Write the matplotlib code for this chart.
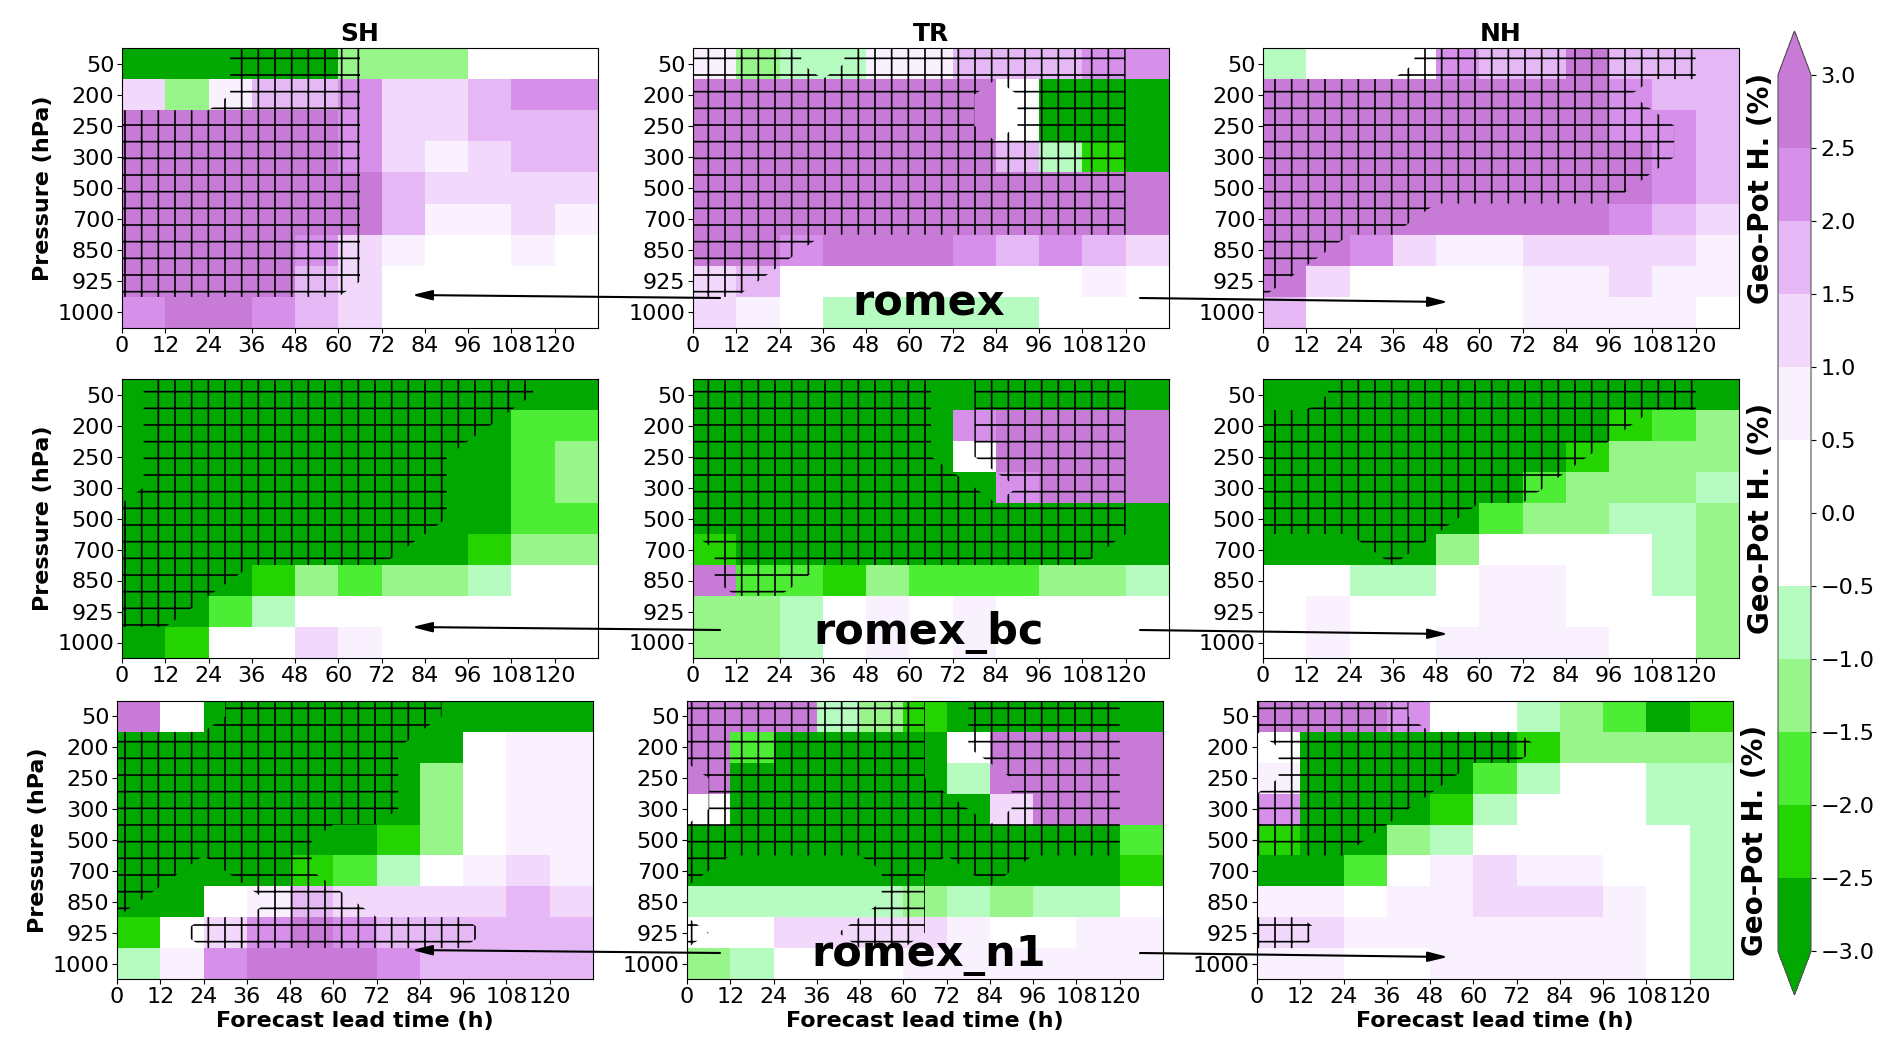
import numpy as np
import matplotlib
matplotlib.use('Agg')
import matplotlib.pyplot as plt
from matplotlib import font_manager
from matplotlib.colors import ListedColormap, BoundaryNorm
from matplotlib.patches import FancyArrowPatch, ArrowStyle

plt.rcParams['hatch.color'] = 'black'
plt.rcParams['hatch.linewidth'] = 1.2

lead_time = [0, 12, 24, 36, 48, 60, 72, 84, 96, 108, 120]
pressure = ['50', '200', '250', '300', '500', '700', '850', '925', '1000']
regions = ['SH', 'TR', 'NH']
experiments = ['romex', 'romex_bc', 'romex_n1']

# geopotential height change (%), rows = pressure levels top->bottom, cols = lead time
sh_romex = [
    [-2.8, -2.8, -2.8, -2.8, -2.8, -1.2, -1.2, -1.2, 0.2, 0.2, 0.2],
    [1.2, -1.2, 0.7, 1.7, 1.7, 2.2, 1.2, 1.2, 1.7, 2.2, 2.2],
    [2.8, 2.8, 2.8, 2.8, 2.8, 2.2, 1.2, 1.2, 1.7, 1.7, 1.7],
    [2.8, 2.8, 2.8, 2.8, 2.8, 2.2, 1.2, 0.7, 1.2, 1.7, 1.7],
    [2.8, 2.8, 2.8, 2.8, 2.8, 2.8, 1.7, 1.2, 1.2, 1.2, 1.2],
    [2.8, 2.8, 2.8, 2.8, 2.8, 2.8, 1.7, 0.7, 0.7, 1.2, 0.7],
    [2.8, 2.8, 2.8, 2.8, 2.2, 1.2, 0.7, 0.2, 0.2, 0.7, 0.2],
    [2.8, 2.8, 2.8, 2.8, 1.7, 1.2, 0.2, 0.2, 0.2, 0.2, 0.2],
    [2.2, 2.8, 2.8, 2.2, 1.7, 1.2, 0.2, 0.2, 0.2, 0.2, 0.2],
]
tr_romex = [
    [0.7, -1.2, -0.7, -0.7, 0.7, 0.7, 1.7, 1.7, 1.7, 2.2, 2.2],
    [2.8, 2.8, 2.8, 2.8, 2.8, 2.8, 2.8, 0.2, -2.8, -2.8, -2.8],
    [2.8, 2.8, 2.8, 2.8, 2.8, 2.8, 2.8, 0.2, -2.8, -2.8, -2.8],
    [2.8, 2.8, 2.8, 2.8, 2.8, 2.8, 2.8, 1.7, -0.7, -2.2, -2.8],
    [2.8, 2.8, 2.8, 2.8, 2.8, 2.8, 2.8, 2.8, 2.8, 2.8, 2.8],
    [2.8, 2.8, 2.8, 2.8, 2.8, 2.8, 2.8, 2.8, 2.8, 2.8, 2.8],
    [2.8, 2.8, 2.2, 2.8, 2.8, 2.8, 2.2, 1.7, 2.2, 1.7, 1.2],
    [1.2, 1.7, 0.2, 0.2, 0.2, 0.2, 0.2, 0.2, 0.2, 0.7, 0.2],
    [1.2, 0.7, 0.2, -0.7, -0.7, -0.7, -0.7, -0.7, 0.2, 0.2, 0.2],
]
nh_romex = [
    [-0.7, 0.2, 0.2, 0.2, 2.2, 1.7, 1.7, 2.8, 1.7, 1.7, 1.7],
    [2.8, 2.8, 2.8, 2.8, 2.8, 2.8, 2.8, 2.8, 2.2, 1.7, 1.7],
    [2.8, 2.8, 2.8, 2.8, 2.8, 2.8, 2.8, 2.8, 2.2, 2.2, 1.7],
    [2.8, 2.8, 2.8, 2.8, 2.8, 2.8, 2.8, 2.8, 2.8, 2.2, 1.7],
    [2.8, 2.8, 2.8, 2.8, 2.8, 2.8, 2.8, 2.8, 2.8, 2.2, 1.7],
    [2.8, 2.8, 2.8, 2.8, 2.8, 2.8, 2.8, 2.8, 2.2, 1.7, 1.2],
    [2.8, 2.8, 2.2, 1.2, 0.7, 0.7, 1.2, 1.2, 1.2, 1.2, 0.7],
    [2.8, 1.2, 0.2, 0.2, 0.2, 0.2, 0.7, 0.7, 1.2, 0.7, 0.7],
    [1.7, 0.2, 0.2, 0.2, 0.2, 0.2, 0.7, 0.7, 0.7, 0.7, 0.2],
]
sh_romex_bc = [
    [-2.8, -2.8, -2.8, -2.8, -2.8, -2.8, -2.8, -2.8, -2.8, -2.8, -2.8],
    [-2.8, -2.8, -2.8, -2.8, -2.8, -2.8, -2.8, -2.8, -2.8, -1.7, -1.7],
    [-2.8, -2.8, -2.8, -2.8, -2.8, -2.8, -2.8, -2.8, -2.8, -1.7, -1.2],
    [-2.8, -2.8, -2.8, -2.8, -2.8, -2.8, -2.8, -2.8, -2.8, -1.7, -1.2],
    [-2.8, -2.8, -2.8, -2.8, -2.8, -2.8, -2.8, -2.8, -2.8, -1.7, -1.7],
    [-2.8, -2.8, -2.8, -2.8, -2.8, -2.8, -2.8, -2.8, -2.2, -1.2, -1.2],
    [-2.8, -2.8, -2.8, -2.2, -1.2, -1.7, -1.2, -1.2, -0.7, 0.2, 0.2],
    [-2.8, -2.8, -1.7, -0.7, 0.2, 0.2, 0.2, 0.2, 0.2, 0.2, 0.2],
    [-2.8, -2.2, 0.2, 0.2, 1.2, 0.7, 0.2, 0.2, 0.2, 0.2, 0.2],
]
tr_romex_bc = [
    [-2.8, -2.8, -2.8, -2.8, -2.8, -2.8, -2.8, -2.8, -2.8, -2.8, -2.8],
    [-2.8, -2.8, -2.8, -2.8, -2.8, -2.8, 2.2, 2.8, 2.8, 2.8, 2.8],
    [-2.8, -2.8, -2.8, -2.8, -2.8, -2.8, 0.2, 2.8, 2.8, 2.8, 2.8],
    [-2.8, -2.8, -2.8, -2.8, -2.8, -2.8, -2.8, 2.2, 2.8, 2.8, 2.8],
    [-2.8, -2.8, -2.8, -2.8, -2.8, -2.8, -2.8, -2.8, -2.8, -2.8, -2.8],
    [-2.2, -2.8, -2.8, -2.8, -2.8, -2.8, -2.8, -2.8, -2.8, -2.8, -2.8],
    [2.8, -1.7, -1.7, -2.2, -1.2, -1.7, -1.7, -1.7, -1.2, -1.2, -0.7],
    [-1.2, -1.2, -0.7, 0.2, 0.7, 0.2, 0.7, 0.2, 0.2, 0.2, 0.2],
    [-1.2, -1.2, -0.7, 0.2, 0.7, 0.2, 0.7, 0.2, 0.2, 0.2, 0.2],
]
nh_romex_bc = [
    [-2.8, -2.8, -2.8, -2.8, -2.8, -2.8, -2.8, -2.8, -2.8, -2.8, -2.8],
    [-2.8, -2.8, -2.8, -2.8, -2.8, -2.8, -2.8, -2.8, -2.2, -1.7, -1.2],
    [-2.8, -2.8, -2.8, -2.8, -2.8, -2.8, -2.8, -2.2, -1.2, -1.2, -1.2],
    [-2.8, -2.8, -2.8, -2.8, -2.8, -2.8, -1.7, -1.2, -1.2, -1.2, -0.7],
    [-2.8, -2.8, -2.8, -2.8, -2.8, -1.7, -1.2, -1.2, -0.7, -0.7, -1.2],
    [-2.8, -2.8, -2.8, -2.8, -1.2, 0.2, 0.2, 0.2, 0.2, -0.7, -1.2],
    [0.2, 0.2, -0.7, -0.7, 0.2, 0.7, 0.7, 0.2, 0.2, -0.7, -1.2],
    [0.2, 0.7, 0.2, 0.2, 0.2, 0.7, 0.7, 0.2, 0.2, 0.2, -1.2],
    [0.2, 0.7, 0.2, 0.2, 0.7, 0.7, 0.7, 0.7, 0.2, 0.2, -1.2],
]
sh_romex_n1 = [
    [2.8, 0.2, -2.8, -2.8, -2.8, -2.8, -2.8, -2.8, -2.8, -2.8, -2.8],
    [-2.8, -2.8, -2.8, -2.8, -2.8, -2.8, -2.8, -2.8, 0.2, 0.7, 0.7],
    [-2.8, -2.8, -2.8, -2.8, -2.8, -2.8, -2.8, -1.2, 0.2, 0.7, 0.7],
    [-2.8, -2.8, -2.8, -2.8, -2.8, -2.8, -2.8, -1.2, 0.2, 0.7, 0.7],
    [-2.8, -2.8, -2.8, -2.8, -2.8, -2.8, -2.2, -1.2, 0.2, 0.7, 0.7],
    [-2.8, -2.8, -2.8, -2.8, -2.2, -1.7, -0.7, 0.2, 0.7, 1.2, 0.7],
    [-2.8, -2.8, 0.2, 0.7, 1.7, 1.2, 1.2, 1.2, 1.2, 1.7, 1.2],
    [-2.2, 0.2, 1.2, 2.2, 2.8, 2.2, 1.7, 1.7, 1.7, 1.7, 1.7],
    [-0.7, 0.7, 2.2, 2.8, 2.8, 2.8, 2.2, 1.7, 1.7, 1.7, 1.7],
]
tr_romex_n1 = [
    [2.8, 2.8, 2.8, -0.7, -1.2, -2.2, -2.8, -2.8, -2.8, -2.8, -2.8],
    [2.8, -1.7, -2.8, -2.8, -2.8, -2.8, 0.2, 2.8, 2.8, 2.8, 2.8],
    [2.8, -2.8, -2.8, -2.8, -2.8, -2.8, -0.7, 2.8, 2.8, 2.8, 2.8],
    [0.2, -2.8, -2.8, -2.8, -2.8, -2.8, -2.8, 1.2, 2.8, 2.8, 2.8],
    [-2.8, -2.8, -2.8, -2.8, -2.8, -2.8, -2.8, -2.8, -2.8, -2.8, -1.7],
    [-2.8, -2.8, -2.8, -2.8, -2.8, -2.8, -2.8, -2.8, -2.8, -2.8, -2.2],
    [-0.7, -0.7, -0.7, -0.7, -0.7, -1.2, -0.7, -1.2, -0.7, -0.7, 0.2],
    [0.2, 0.2, 1.2, 1.2, 1.2, 1.2, 0.7, 0.2, 0.2, 0.7, 0.7],
    [-1.2, -0.7, 0.2, 0.2, 0.2, 0.7, 0.7, 0.7, 0.7, 0.7, 0.7],
]
nh_romex_n1 = [
    [2.8, 2.8, 2.8, 2.2, 0.2, 0.2, -0.7, -1.2, -1.7, -2.8, -2.2],
    [0.2, -2.8, -2.8, -2.8, -2.8, -2.8, -2.2, -1.2, -1.2, -1.2, -1.2],
    [0.7, -2.8, -2.8, -2.8, -2.8, -1.7, -0.7, 0.2, 0.2, -0.7, -0.7],
    [2.2, -2.8, -2.8, -2.8, -2.2, -0.7, 0.2, 0.2, 0.2, -0.7, -0.7],
    [-2.2, -2.8, -2.8, -1.2, -0.7, 0.2, 0.2, 0.2, 0.2, 0.2, -0.7],
    [-2.8, -2.8, -1.7, 0.2, 0.7, 1.2, 0.7, 0.7, 0.2, 0.2, -0.7],
    [0.7, 0.7, 0.2, 0.7, 0.7, 1.2, 1.2, 1.2, 0.7, 0.2, -0.7],
    [1.2, 1.2, 0.7, 0.7, 0.7, 0.7, 0.7, 0.7, 0.7, 0.2, -0.7],
    [0.7, 0.7, 0.2, 0.2, 0.7, 0.7, 0.7, 0.7, 0.7, 0.2, -0.7],
]

# significance (1 = hatched), same layout
sig_sh_romex = ['00011100000', '00011100000', '11111100000', '11111100000', '11111100000',
                '11111100000', '11111100000', '11111100000', '00000000000']
sig_tr_romex = ['11101111111', '11111110111', '11111110111', '11111111111', '11111111111',
                '11111111111', '11100000000', '11000000000', '00000000000']
sig_nh_romex = ['00001111111', '11111111100', '11111111110', '11111111110', '11111111100',
                '11110000000', '11000000000', '10000000000', '00000000000']
sig_sh_romex_bc = ['01111111110', '01111111100', '01111111000', '01111111000', '11111111000',
                   '11111110000', '11100000000', '11000000000', '00000000000']
sig_tr_romex_bc = ['11111101111', '11111101111', '11111101111', '11111110111', '11111111111',
                   '01111111110', '01100000000', '00000000000', '00000000000']
sig_nh_romex_bc = ['00111111111', '11111111100', '11111111000', '11111110000', '11111000000',
                   '00010000000', '00000000000', '00000000000', '00000000000']
sig_sh_romex_n1 = ['00011111000', '11111110000', '11111110000', '11111110000', '11111000000',
                   '11011000000', '10001100000', '00111111100', '00000000000']
sig_tr_romex_n1 = ['11111101111', '11111101111', '01111100111', '01111110111', '11111111111',
                   '10000101000', '00000100000', '10001100000', '00000000000']
sig_nh_romex_n1 = ['11110000000', '01111110000', '01111000000', '11110000000', '11100000000',
                   '00000000000', '00000000000', '11000000000', '00000000000']

values = [[sh_romex, tr_romex, nh_romex],
          [sh_romex_bc, tr_romex_bc, nh_romex_bc],
          [sh_romex_n1, tr_romex_n1, nh_romex_n1]]
signif = [[sig_sh_romex, sig_tr_romex, sig_nh_romex],
          [sig_sh_romex_bc, sig_tr_romex_bc, sig_nh_romex_bc],
          [sig_sh_romex_n1, sig_tr_romex_n1, sig_nh_romex_n1]]

bounds = np.arange(-3, 3.01, 0.5)
colors = ['#00a800', '#24d400', '#4eed35', '#98f589', '#b6fcc1', '#ffffff',
          '#ffffff', '#faf1fe', '#f2d9fc', '#e5b7f5', '#d690ea', '#c77bd7']
cmap = ListedColormap(colors)
cmap.set_under('#00a800')
cmap.set_over('#c77bd7')
norm = BoundaryNorm(bounds, cmap.N)

W, H = 1892, 1059
fig = plt.figure(figsize=(W / 100, H / 100), dpi=100)

lefts = [[122, 693, 1263], [122, 693, 1263], [117, 687, 1257]]
tops = [48, 379, 701]
bots = [328, 658, 979]
pw = 476

x_edges = np.append(lead_time, lead_time[-1] + 12)
y_edges = np.arange(len(pressure) + 1) - 0.5
y_hatch = np.concatenate([[-0.5], np.arange(len(pressure)), [len(pressure) - 0.5]])

names = {f.name for f in font_manager.fontManager.ttflist}
narrow = 'Liberation Sans Narrow' in names

for i in range(3):
    for j in range(3):
        l, t, b = lefts[i][j], tops[i], bots[i]
        ax = fig.add_axes([l / W, 1 - b / H, pw / W, (b - t) / H])
        mesh = ax.pcolormesh(x_edges, y_edges, np.array(values[i][j]), cmap=cmap, norm=norm)
        m = np.array([[int(c) for c in row] for row in signif[i][j]], dtype=float)
        m = np.vstack([m[:1], m, m[-1:]])
        ax.contourf(lead_time, y_hatch, m, levels=[0.5, 1.5], colors='none', hatches=['+'])
        ax.set_xlim(0, 132)
        ax.set_ylim(len(pressure) - 0.5, -0.5)
        ax.set_xticks(lead_time)
        ax.set_yticks(range(len(pressure)))
        ax.set_yticklabels(pressure)
        ax.tick_params(labelsize=16, pad=2)
        if i == 0:
            ax.set_title(regions[j], fontsize=18, fontweight='bold', pad=5)
        if j == 0:
            ax.set_ylabel('Pressure (hPa)', fontsize=16, fontweight='bold', labelpad=3)
        if i == 2:
            ax.set_xlabel('Forecast lead time (h)', fontsize=16, fontweight='bold', labelpad=3)
        if j == 2:
            if narrow:
                fig.text((l + pw + 22) / W, 1 - (t + b) / 2 / H, 'Geo-Pot H. (%)', rotation=90,
                         ha='center', va='center', fontsize=27, fontweight='bold',
                         family='Liberation Sans Narrow')
            else:
                fig.text((l + pw + 22) / W, 1 - (t + b) / 2 / H, 'Geo-Pot H. (%)', rotation=90,
                         ha='center', va='center', fontsize=20, fontweight='bold')

# colorbar box includes both extension triangles
cax = fig.add_axes([1778 / W, 1 - 995 / H, 33 / W, 964 / H])
cb = fig.colorbar(mesh, cax=cax, extend='both', extendfrac=0.05, ticks=bounds)
cb.ax.tick_params(labelsize=16)
cb.outline.set_edgecolor('#555555')

# experiment names with arrows pointing to SH and NH
text_y = [303, 632, 955]
arrow_y = [298, 630, 953]
head = ArrowStyle('-|>', head_length=0.6, head_width=0.15)
for k in range(3):
    fig.text(929 / W, 1 - text_y[k] / H, experiments[k], ha='center', va='center',
             fontsize=31, fontweight='bold')
    ya = arrow_y[k]
    for xa, xb, yb in [(720, 412, ya - 3), (1140, 1448, ya + 4)]:
        fig.add_artist(FancyArrowPatch((xa / W, 1 - ya / H), (xb / W, 1 - yb / H),
                                       transform=fig.transFigure, arrowstyle=head,
                                       mutation_scale=20, lw=1.5, color='black',
                                       shrinkA=0, shrinkB=0))

fig.savefig('out.png', dpi=100)
